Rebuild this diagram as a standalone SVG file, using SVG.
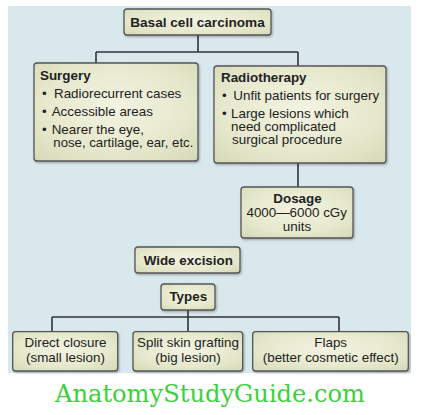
<svg xmlns="http://www.w3.org/2000/svg" width="422" height="415" viewBox="0 0 422 415">
  <defs>
    <radialGradient id="boxFill" cx="50%" cy="45%" r="75%">
      <stop offset="0%" stop-color="#f2f3e2"/>
      <stop offset="60%" stop-color="#e6e8cc"/>
      <stop offset="100%" stop-color="#d5d8b6"/>
    </radialGradient>
    <filter id="shadow" x="-10%" y="-10%" width="125%" height="130%">
      <feDropShadow dx="1" dy="1.2" stdDeviation="0.9" flood-color="#000" flood-opacity="0.3"/>
    </filter>
  </defs>
  <style>
    .box { fill: url(#boxFill); stroke: #555; stroke-width: 1.3; filter: url(#shadow); }
    .t { font-family: "Liberation Sans", Arial, sans-serif; font-size: 13.4px; fill: #222; }
    .b { font-weight: bold; }
    .c { text-anchor: middle; }
    .conn { fill: none; stroke: #333; stroke-width: 1.6; }
    .wm { font-family: "DejaVu Serif", "Liberation Serif", serif; font-size: 24px; fill: #3dd03d; }
  </style>
  <rect width="422" height="415" fill="#ffffff"/>
  <rect x="8" y="6" width="403" height="367" fill="#d8e8ec"/>

  <g id="connectors">
    <path class="conn" d="M198,35 V52 M96,52 H298 M96,52 V63 M298,52 V66"/>
    <path class="conn" d="M298,163 V187"/>
    <path class="conn" d="M188,310 V331 M52,317 H339 M52,317 V332 M339,317 V331"/>
  </g>

  <g id="basal">
    <rect class="box" x="124" y="9" width="147" height="26" rx="3"/>
    <text class="t b c" x="197.5" y="27" style="font-size:13.6px">Basal cell carcinoma</text>
  </g>

  <g id="surgery">
    <rect class="box" x="34" y="63" width="164" height="98" rx="3"/>
    <text class="t b" x="40" y="80">Surgery</text>
    <text class="t" x="42" y="97.7">•</text>
    <text class="t" x="54" y="97.7">Radiorecurrent cases</text>
    <text class="t" x="42" y="115.7">•</text>
    <text class="t" x="51.7" y="115.7">Accessible areas</text>
    <text class="t" x="42" y="133.7">•</text>
    <text class="t" x="51.7" y="133.7">Nearer the eye,</text>
    <text class="t" x="53.3" y="146.5" style="font-size:13.2px">nose, cartilage, ear, etc.</text>
  </g>

  <g id="radiotherapy">
    <rect class="box" x="214" y="66" width="172" height="97" rx="3"/>
    <text class="t b" x="221" y="81.7">Radiotherapy</text>
    <text class="t" x="222" y="100">•</text>
    <text class="t" x="233.3" y="100">Unfit patients for surgery</text>
    <text class="t" x="222" y="118">•</text>
    <text class="t" x="231" y="118">Large lesions which</text>
    <text class="t" x="231" y="131.2">need complicated</text>
    <text class="t" x="232" y="144.4">surgical procedure</text>
  </g>

  <g id="dosage">
    <rect class="box" x="241" y="187" width="112" height="51" rx="3"/>
    <text class="t b c" x="297.5" y="203.3">Dosage</text>
    <text class="t c" x="296.7" y="217.3">4000—6000 cGy</text>
    <text class="t c" x="297" y="230.7">units</text>
  </g>

  <g id="wide-excision">
    <rect class="box" x="135" y="247" width="105" height="26" rx="3"/>
    <text class="t b c" x="188.3" y="265">Wide excision</text>
  </g>

  <g id="types">
    <rect class="box" x="161" y="284" width="54" height="26" rx="3"/>
    <text class="t b c" x="188.3" y="301">Types</text>
  </g>

  <g id="direct-closure">
    <rect class="box" x="12.7" y="331.7" width="105" height="39.3" rx="3"/>
    <text class="t c" x="65.5" y="347">Direct closure</text>
    <text class="t c" x="65.5" y="362">(small lesion)</text>
  </g>

  <g id="split-skin">
    <rect class="box" x="133" y="331.7" width="109.7" height="39.3" rx="3"/>
    <text class="t c" x="188" y="347">Split skin grafting</text>
    <text class="t c" x="188" y="362">(big lesion)</text>
  </g>

  <g id="flaps">
    <rect class="box" x="252.7" y="331.7" width="155.6" height="39.3" rx="3"/>
    <text class="t c" x="330.7" y="347">Flaps</text>
    <text class="t c" x="330.7" y="362">(better cosmetic effect)</text>
  </g>

  <text class="wm" x="55" y="402" textLength="310" lengthAdjust="spacingAndGlyphs">AnatomyStudyGuide.com</text>
</svg>
